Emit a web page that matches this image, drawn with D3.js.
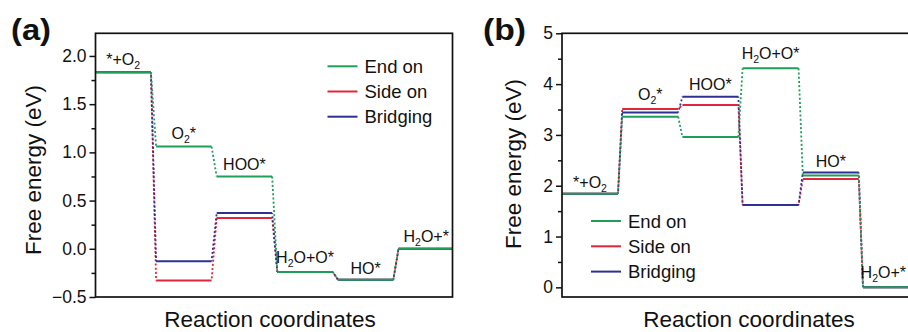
<!DOCTYPE html>
<html>
<head>
<meta charset="utf-8">
<script src="https://cdn.jsdelivr.net/npm/d3@7"></script>
<style>
  html, body { margin: 0; padding: 0; background: #fff; }
  svg { display: block; }
  text { font-family: "Liberation Sans", Arial, Helvetica, sans-serif; fill: #111; }
</style>
</head>
<body>
<svg id="chart" width="908" height="332"></svg>
<script>
// ---- data ----
const steps = ["*+O_2", "O_2*", "HOO*", "H_2O+O*", "HO*", "H_2O+*"];
const seriesNames = ["End on", "Side on", "Bridging"];
const seriesColors = ["#1f9e5a", "#e0263a", "#2e3192"];

// panel (a)
const endOnA    = [1.83, 1.06, 0.75, -0.24, -0.32, 0.00];
const sideOnA   = [1.83, -0.33, 0.32, -0.24, -0.32, 0.00];
const bridgingA = [1.83, -0.13, 0.37, -0.24, -0.32, 0.00];
const yTicksA = [-0.5, 0.0, 0.5, 1.0, 1.5, 2.0];
const yMinorA = [-0.25, 0.25, 0.75, 1.25, 1.75];

// panel (b)
const endOnB    = [1.84, 3.36, 2.96, 4.31, 2.20, 0.00];
const sideOnB   = [1.84, 3.51, 3.59, 1.62, 2.13, 0.00];
const bridgingB = [1.84, 3.44, 3.75, 1.62, 2.26, 0.00];
const yTicksB = [0, 1, 2, 3, 4, 5];
const yMinorB = [0.5, 1.5, 2.5, 3.5, 4.5];

const yTitle = "Free energy (eV)";
const xTitle = "Reaction coordinates";

// ---- drawing ----
const svg = d3.select("#chart");
const W = 908;

function addLabel(sel, str, mainSize, subSize) {
  let i = 0, pendingUp = false;
  while (i < str.length) {
    if (str[i] === "_") {
      sel.append("tspan").attr("font-size", subSize).attr("dy", 4).text(str[i + 1]);
      pendingUp = true;
      i += 2;
    } else {
      let j = i;
      while (j < str.length && str[j] !== "_") j++;
      const t = sel.append("tspan").attr("font-size", mainSize).text(str.slice(i, j));
      if (pendingUp) { t.attr("dy", -4); pendingUp = false; }
      i = j;
    }
  }
}

function panel(cfg) {
  const g = svg.append("g");
  const clipId = "clip" + cfg.id;
  svg.append("defs").append("clipPath").attr("id", clipId)
    .append("rect").attr("x", cfg.left).attr("y", cfg.top)
    .attr("width", cfg.right - cfg.left).attr("height", cfg.bottom - cfg.top);

  const x = d3.scaleLinear().domain([0, 1]).range([cfg.left, cfg.left + cfg.step]);
  const y = d3.scaleLinear().domain(cfg.yDomain).range([cfg.bottom, cfg.top]);
  const levelW = cfg.levelFrac;

  const plot = g.append("g").attr("clip-path", `url(#${clipId})`);
  const data = cfg.series; // [endOn, sideOn, bridging]
  const order = [1, 2, 0]; // side on, bridging, then end on on top
  const dashOff = [0, 2, 1];

  // connectors
  order.forEach(si => {
    const vals = data[si];
    for (let k = 0; k < vals.length - 1; k++) {
      plot.append("line")
        .attr("x1", x(k + levelW)).attr("y1", y(vals[k]))
        .attr("x2", x(k + 1)).attr("y2", y(vals[k + 1]))
        .attr("stroke", seriesColors[si]).attr("stroke-width", 1.8)
        .attr("stroke-dasharray", "2,2.2").attr("stroke-dashoffset", dashOff[si]);
    }
  });
  // levels
  order.forEach(si => {
    plot.selectAll(null).data(data[si]).enter().append("line")
      .attr("x1", (d, k) => x(k)).attr("x2", (d, k) => x(k + levelW))
      .attr("y1", d => y(d)).attr("y2", d => y(d))
      .attr("stroke", seriesColors[si]).attr("stroke-width", 2);
  });

  // step labels
  steps.forEach((s, k) => {
    const top = d3.max(data, arr => arr[k]);
    const t = g.append("text")
      .attr("x", x(k + levelW / 2)).attr("y", y(top) - cfg.labelOff[k])
      .attr("text-anchor", "middle");
    addLabel(t, s, 16, 10.5);
    const bb = t.node().getBBox();
    if (bb.x + bb.width > W - 2) {
      t.attr("x", +t.attr("x") - (bb.x + bb.width - (W - 2)));
    }
  });

  // frame
  g.append("rect").attr("x", cfg.left).attr("y", cfg.top)
    .attr("width", cfg.right - cfg.left).attr("height", cfg.bottom - cfg.top)
    .attr("fill", "none").attr("stroke", "#111").attr("stroke-width", 1.7);

  // y axis
  const ax = g.append("g").attr("transform", `translate(${cfg.left},0)`)
    .call(d3.axisLeft(y).tickValues(cfg.yTicks).tickFormat(cfg.fmt).tickSize(6).tickPadding(3));
  ax.select(".domain").remove();
  ax.selectAll(".tick line").attr("stroke", "#111").attr("stroke-width", 1.5);
  ax.selectAll(".tick text").attr("font-size", 17.5).attr("fill", "#111")
    .attr("font-family", '"Liberation Sans", Arial, sans-serif');
  const axm = g.append("g").attr("transform", `translate(${cfg.left},0)`)
    .call(d3.axisLeft(y).tickValues(cfg.yMinor).tickFormat("").tickSize(4));
  axm.select(".domain").remove();
  axm.selectAll(".tick line").attr("stroke", "#111").attr("stroke-width", 1.5);

  // titles
  g.append("text").attr("transform", `translate(${cfg.yTitleX},${cfg.yTitleY}) rotate(-90)`)
    .attr("text-anchor", "middle").attr("font-size", 22.5).text(yTitle);
  g.append("text").attr("x", cfg.xTitleX).attr("y", 327)
    .attr("text-anchor", "middle").attr("font-size", 22.5).text(xTitle);

  // panel tag
  g.append("text").attr("x", cfg.tagX).attr("y", 40).attr("font-size", 29)
    .attr("font-weight", "bold").attr("textLength", cfg.tagW).attr("lengthAdjust", "spacingAndGlyphs")
    .text(cfg.tag);

  // legend
  const lg = g.append("g");
  seriesNames.forEach((n, i) => {
    const ly = cfg.legY + i * cfg.legDy;
    lg.append("line").attr("x1", cfg.legX).attr("x2", cfg.legX + 30)
      .attr("y1", ly).attr("y2", ly).attr("stroke", seriesColors[i]).attr("stroke-width", 2);
    lg.append("text").attr("x", cfg.legX + 37).attr("y", ly + 6.5)
      .attr("font-size", 18.5).text(n);
  });
}

panel({
  id: "a", tag: "(a)", tagX: 11, tagW: 40,
  left: 95.5, right: 452.5, top: 33.3, bottom: 297,
  step: 60.6, levelFrac: 0.915,
  yDomain: [-0.5, 2.235], yTicks: yTicksA, yMinor: yMinorA, fmt: d3.format(".1f"),
  series: [endOnA, sideOnA, bridgingA],
  labelOff: [7, 7.5, 6, 9, 5.5, 6.5],
  yTitleX: 41, yTitleY: 170, xTitleX: 270,
  legX: 327.5, legY: 66.3, legDy: 25.2
});

panel({
  id: "b", tag: "(b)", tagX: 483, tagW: 43,
  left: 562, right: 925, top: 33.3, bottom: 297,
  step: 60.2, levelFrac: 0.93,
  yDomain: [-0.19, 5], yTicks: yTicksB, yMinor: yMinorB, fmt: d3.format("d"),
  series: [endOnB, sideOnB, bridgingB],
  labelOff: [6, 9, 6.5, 9, 6, 9.5],
  yTitleX: 521, yTitleY: 164, xTitleX: 749,
  legX: 591, legY: 221, legDy: 25.3
});
</script>
</body>
</html>
